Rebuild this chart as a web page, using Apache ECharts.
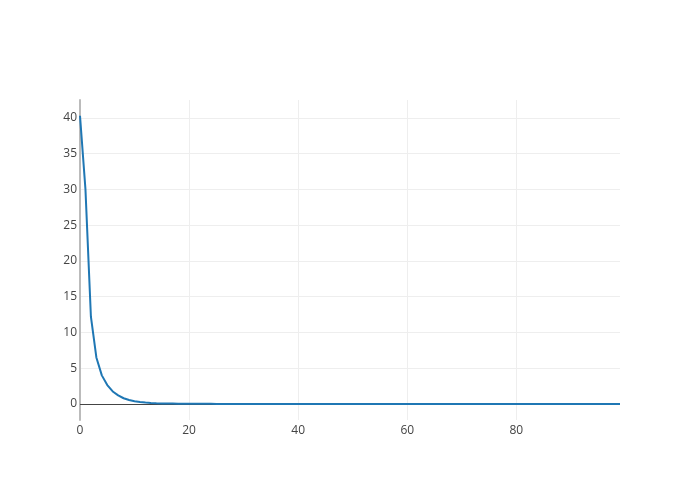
<!DOCTYPE html>
<html>
<head>
<meta charset="utf-8">
<script src="https://cdn.jsdelivr.net/npm/echarts@6/dist/echarts.min.js"></script>
<style>html,body{margin:0;padding:0;background:#fff}#c{width:700px;height:500px}</style>
</head>
<body>
<div id="c"></div>
<script>
const xValues = Array.from({length: 100}, (_, i) => i);
const yValues = [
  40.3, 30.0, 12.2, 6.5, 4.0, 2.65, 1.75, 1.2, 0.8, 0.55,
  0.38, 0.27, 0.2, 0.15, 0.11, 0.08, 0.06, 0.05, 0.04, 0.03,
  0.025, 0.02, 0.02, 0.015, 0.015, 0.01, 0.01, 0.01, 0.01, 0.01,
  0.005, 0.005, 0.005, 0.005, 0.005, 0.005, 0.005, 0.005, 0.005, 0.005,
  0, 0, 0, 0, 0, 0, 0, 0, 0, 0,
  0, 0, 0, 0, 0, 0, 0, 0, 0, 0,
  0, 0, 0, 0, 0, 0, 0, 0, 0, 0,
  0, 0, 0, 0, 0, 0, 0, 0, 0, 0,
  0, 0, 0, 0, 0, 0, 0, 0, 0, 0,
  0, 0, 0, 0, 0, 0, 0, 0, 0, 0
];
const xTicks = [0, 20, 40, 60, 80];
const yTicks = [0, 5, 10, 15, 20, 25, 30, 35, 40];

const chart = echarts.init(document.getElementById('c'));
const font = {fontFamily: 'Open Sans', fontSize: 12, color: '#444'};
chart.setOption({
  animation: false,
  grid: {left: 80, right: 80, top: 100, bottom: 80},
  xAxis: {
    type: 'value', min: 0, max: 99,
    axisLine: {show: false},
    axisTick: {show: false, customValues: xTicks},
    axisLabel: Object.assign({customValues: xTicks, margin: 5}, font),
    splitLine: {show: true, lineStyle: {color: '#eee', width: 1}}
  },
  yAxis: {
    type: 'value', min: -2.24, max: 42.5,
    axisLine: {show: true, lineStyle: {color: '#bbb', width: 2}},
    axisTick: {show: false, customValues: yTicks},
    axisLabel: Object.assign({customValues: yTicks, margin: 3, verticalAlign: 'middle', padding: [6, 0, 0, 0]}, font),
    splitLine: {show: true, lineStyle: {color: '#eee', width: 1}}
  },
  series: [
    {
      type: 'line', data: [], z: 1, silent: true,
      markLine: {
        z: 1, silent: true, symbol: 'none', label: {show: false},
        lineStyle: {color: '#444', width: 1, type: 'solid'},
        data: [{yAxis: 0}]
      }
    },
    {
      type: 'line', z: 3,
      data: xValues.map((x, i) => [x, yValues[i]]),
      showSymbol: false, symbol: 'none',
      lineStyle: {color: '#1f77b4', width: 2},
      itemStyle: {color: '#1f77b4'}
    }
  ]
});
</script>
</body>
</html>
